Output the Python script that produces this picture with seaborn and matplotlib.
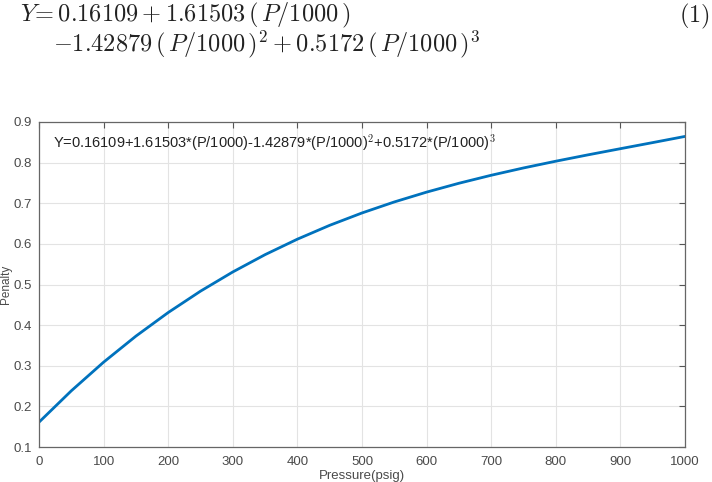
import matplotlib
matplotlib.use("Agg")
import matplotlib.pyplot as plt
import seaborn as sns
import pandas as pd

pressure = [0, 50, 100, 150, 200, 250, 300, 350, 400, 450, 500,
            550, 600, 650, 700, 750, 800, 850, 900, 950, 1000]
penalty = [0.1611, 0.2383, 0.3088, 0.3729, 0.4310, 0.4836, 0.5309, 0.5735,
           0.6116, 0.6457, 0.6761, 0.7032, 0.7274, 0.7492, 0.7689, 0.7869,
           0.8035, 0.8192, 0.8343, 0.8493, 0.8645]
x_ticks = [0, 100, 200, 300, 400, 500, 600, 700, 800, 900, 1000]
y_ticks = [0.1, 0.2, 0.3, 0.4, 0.5, 0.6, 0.7, 0.8, 0.9]

sns.set_style("white")
plt.rcParams['font.family'] = ['Liberation Sans', 'DejaVu Sans']
plt.rcParams['mathtext.fontset'] = 'cm'

df = pd.DataFrame({"Pressure(psig)": pressure, "Penalty": penalty})

fig = plt.figure(figsize=(7.12, 4.82), dpi=100)
ax = fig.add_axes([39/712, 1 - 447/482, (685-39)/712, (447-122)/482])

sns.lineplot(data=df, x="Pressure(psig)", y="Penalty", ax=ax,
             color="#0072BD", linewidth=2.0)

ax.set_xlim(0, 1000)
ax.set_ylim(0.1, 0.9)
ax.set_xticks(x_ticks)
ax.set_yticks(y_ticks)
ax.set_xticklabels([str(v) for v in x_ticks])
ax.set_yticklabels([f"{v:.1f}" for v in y_ticks])
ax.grid(True, color="#e3e3e3", linewidth=0.8)
ax.tick_params(direction="in", length=4, width=0.8, colors="#555555",
               labelcolor="#4a4a4a", labelsize=9.5, top=True, right=True)
ax.tick_params(axis="x", pad=6.5)
ax.tick_params(axis="y", pad=5)
for s in ax.spines.values():
    s.set_color("#666666")
    s.set_linewidth(0.9)
ax.set_xlabel("Pressure(psig)", fontsize=9.5, color="#4a4a4a")
ax.xaxis.set_label_coords(0.5, -(470 - 447) / 325)
ax.set_ylabel("Penalty", fontsize=8.5, color="#4a4a4a")
ax.yaxis.set_label_coords(-(39 - 12) / 646, 0.5)

ax.text(14/646, 1 - 21/325,
        "Y=0.16109+1.61503*(P/1000)-1.42879*(P/1000)$^2$+0.5172*(P/1000)$^3$",
        transform=ax.transAxes, fontsize=10.5, color="#222222",
        ha="left", va="center")

# equation above the chart
fig.text(20/712, 1 - 15/482,
         r"$Y\!=0.16109+1.61503\,(\,P/1000\,)$",
         fontsize=17.5, color="#222222", ha="left", va="center")
fig.text(53/712, 1 - 44/482,
         r"$-1.42879\,(\,P/1000\,)^2+0.5172\,(\,P/1000\,)^3$",
         fontsize=17.5, color="#222222", ha="left", va="center")
fig.text(710/712, 1 - 16/482, r"$(1)$",
         fontsize=17.5, color="#222222", ha="right", va="center")

fig.savefig("out.png", dpi=100)
